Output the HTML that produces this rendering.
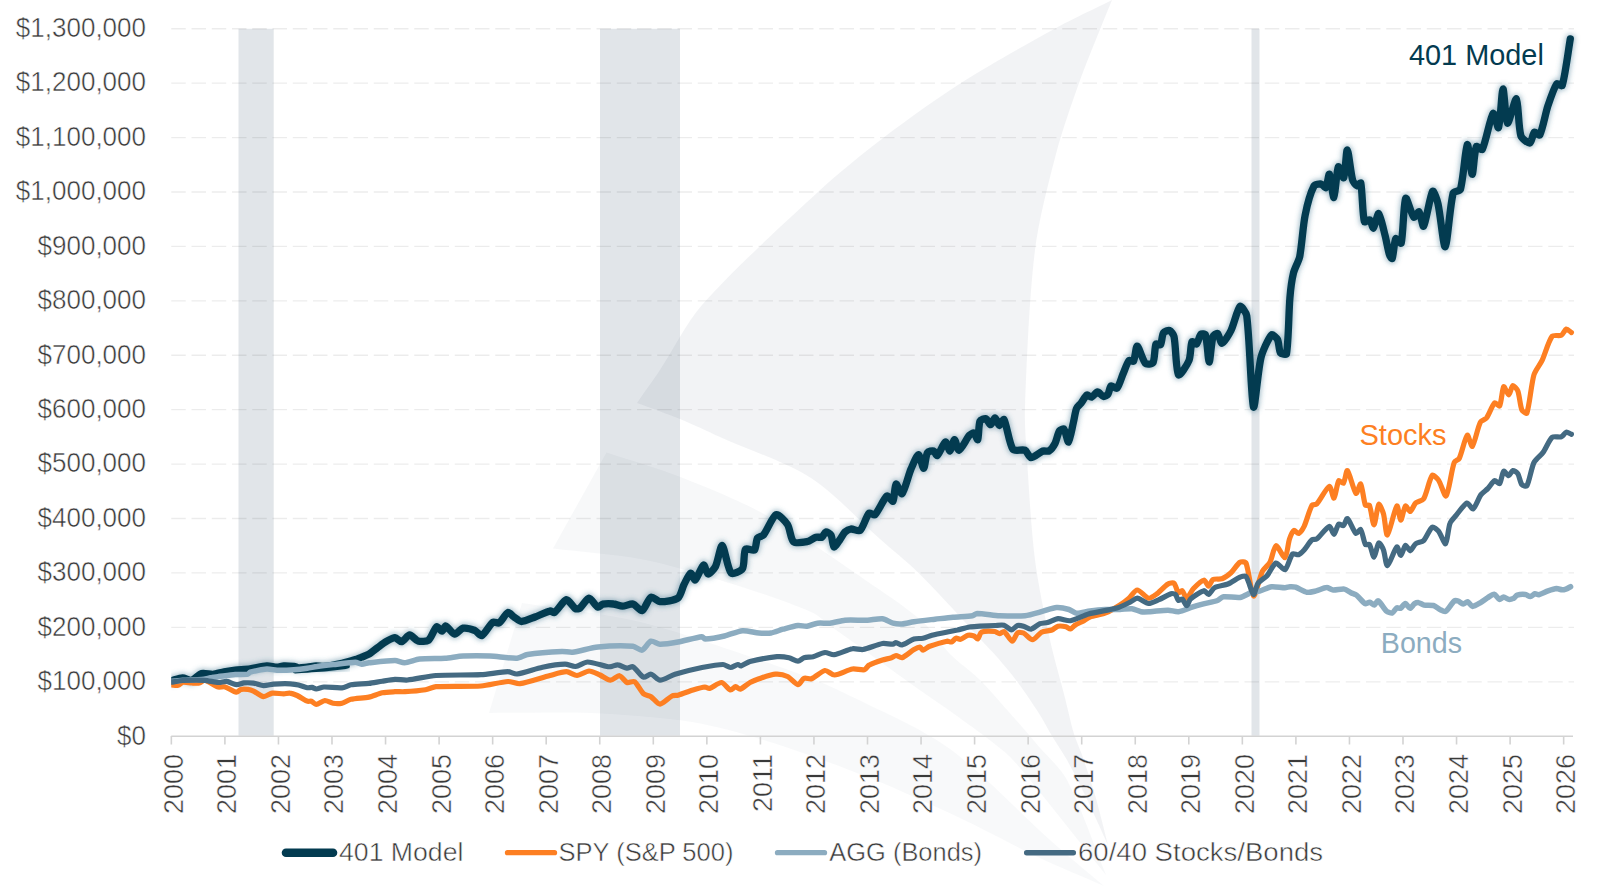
<!DOCTYPE html>
<html><head><meta charset="utf-8"><title>401 Model chart</title><style>
html,body{margin:0;padding:0;background:#fff;width:1600px;height:891px;overflow:hidden}
svg{display:block}
text{font-family:"Liberation Sans",sans-serif}
.thin{stroke:#fff;stroke-width:0.5px;stroke-linejoin:round}
</style></head><body>
<svg width="1600" height="891" viewBox="0 0 1600 891">
<defs>
<clipPath id="plot"><rect x="171.25" y="0" width="1428" height="891"/></clipPath>
<filter id="glow" x="-5%" y="-5%" width="110%" height="110%"><feGaussianBlur stdDeviation="2.6"/></filter>
</defs>
<rect x="0" y="0" width="1600" height="891" fill="#fff"/>

<g fill="#e1e5e9">
<rect x="238.5" y="28.75" width="35.2" height="707"/>
<rect x="600" y="28.75" width="80" height="707"/>
<rect x="1251.5" y="28.75" width="8" height="707"/>
</g>
<g fill="#4d6478">
<path d="M637.0,403.0 C643.9,393.1 653.3,380.1 660.0,370.0 C672.8,350.7 686.7,322.3 702.0,305.0 C734.1,268.9 782.3,224.9 818.0,192.0 C836.7,174.7 863.2,153.2 883.5,137.8 C906.8,120.1 938.6,97.3 963.3,81.6 C990.8,64.1 1028.9,42.9 1057.5,27.2 C1073.5,18.4 1095.7,8.2 1112.0,0.0 L1112.0,0.0 C1108.7,8.1 1104.2,18.9 1101.0,27.0 C1094.3,43.8 1085.0,66.0 1079.0,83.0 C1071.5,104.1 1061.7,132.4 1056.0,154.0 C1048.5,182.5 1038.6,220.8 1035.0,250.0 C1029.3,296.7 1026.8,359.9 1025.0,407.0 C1024.4,422.6 1026.0,443.4 1027.0,459.0 C1029.0,489.3 1031.2,529.9 1035.0,560.0 C1038.1,584.2 1044.8,616.2 1050.0,640.0 C1053.8,657.6 1060.6,680.6 1065.0,698.0 C1067.8,708.8 1070.8,723.3 1074.0,734.0 C1075.9,740.4 1079.8,748.6 1082.0,755.0 C1086.1,766.9 1091.5,782.9 1095.0,795.0 C1099.3,809.9 1104.1,830.0 1108.0,845.0 L1108.0,845.0 C1101.1,830.0 1092.2,809.9 1085.0,795.0 C1079.9,784.4 1072.8,770.3 1067.0,760.0 C1062.9,752.6 1056.4,743.3 1052.0,736.0 C1048.3,729.8 1043.9,721.1 1040.0,715.0 C1033.6,704.9 1024.6,691.6 1017.5,682.0 C1011.7,674.2 1003.3,664.3 997.0,657.0 C992.7,652.0 986.4,645.8 982.0,641.0 C973.2,631.4 961.9,618.5 953.0,609.0 C942.2,597.5 927.9,581.9 916.5,571.0 C906.0,560.9 890.9,548.6 880.0,539.0 C859.3,520.7 834.0,492.7 811.0,478.0 C786.0,462.1 747.3,449.3 720.0,437.0 C708.0,431.6 692.2,424.0 680.0,419.0 C667.3,413.8 649.9,407.8 637.0,403.0 Z" fill-opacity="0.075"/>
<path d="M606.5,452.5 C629.5,460.1 660.5,469.1 683.0,478.0 C709.1,488.3 744.1,502.6 768.5,516.5 C803.2,536.2 847.0,567.4 880.0,590.0 C893.6,599.3 911.9,611.9 924.0,623.0 C932.9,631.1 941.5,645.4 950.0,654.0 C958.0,662.2 970.8,671.0 979.0,679.0 C988.2,688.1 999.4,701.3 1008.0,711.0 C1017.0,721.1 1028.7,734.7 1037.5,745.0 C1046.4,755.4 1060.7,768.0 1067.0,780.0 C1081.2,807.0 1094.3,846.5 1106.0,875.0 L1106.0,875.0 C1083.2,846.5 1053.1,808.3 1030.0,780.0 C1023.7,772.3 1015.2,761.8 1008.0,755.0 C999.9,747.4 987.8,738.7 979.0,732.0 C970.4,725.5 958.8,717.2 950.0,711.0 C939.3,703.4 924.7,693.6 914.0,686.0 C899.8,675.9 881.1,662.1 867.0,652.0 C857.7,645.3 845.3,636.6 836.0,630.0 C828.5,624.6 819.4,615.7 811.0,612.0 C786.4,601.3 751.8,590.0 726.0,582.0 C700.7,574.1 666.6,564.0 640.6,559.0 C614.7,554.0 579.3,551.6 553.0,548.4 Z" fill-opacity="0.045"/>
<path d="M522.0,603.0 C557.4,608.7 605.2,613.7 640.0,622.0 C676.6,630.8 724.2,648.1 760.0,660.0 C778.2,666.1 802.3,674.7 820.0,682.0 C834.4,687.9 853.0,697.3 867.0,704.0 C881.2,710.8 900.2,719.5 914.0,727.0 C925.1,733.0 939.8,741.6 950.0,749.0 C961.6,757.5 975.9,770.3 986.5,780.0 C1005.9,797.6 1030.5,822.5 1050.0,840.0 C1065.8,854.3 1087.8,872.2 1104.0,886.0 L1104.0,886.0 C1084.8,877.6 1058.9,866.9 1040.0,858.0 C1015.7,846.5 984.3,829.4 960.0,818.0 C933.3,805.4 897.4,789.0 870.0,778.0 C840.4,766.2 800.4,751.6 770.0,742.0 C747.0,734.8 715.8,725.9 692.0,722.0 C662.1,717.2 621.4,714.3 591.0,713.0 C560.5,711.6 519.6,713.0 489.0,713.0 Z" fill-opacity="0.04"/>
</g>
<g stroke="#000" stroke-opacity="0.075" stroke-width="1.3" stroke-dasharray="14.5 5.75">
<line x1="171.25" y1="681.78" x2="1574" y2="681.78"/>
<line x1="171.25" y1="627.36" x2="1574" y2="627.36"/>
<line x1="171.25" y1="572.94" x2="1574" y2="572.94"/>
<line x1="171.25" y1="518.52" x2="1574" y2="518.52"/>
<line x1="171.25" y1="464.10" x2="1574" y2="464.10"/>
<line x1="171.25" y1="409.68" x2="1574" y2="409.68"/>
<line x1="171.25" y1="355.26" x2="1574" y2="355.26"/>
<line x1="171.25" y1="300.84" x2="1574" y2="300.84"/>
<line x1="171.25" y1="246.42" x2="1574" y2="246.42"/>
<line x1="171.25" y1="192.00" x2="1574" y2="192.00"/>
<line x1="171.25" y1="137.58" x2="1574" y2="137.58"/>
<line x1="171.25" y1="83.16" x2="1574" y2="83.16"/>
<line x1="171.25" y1="28.74" x2="1574" y2="28.74"/>
</g>
<g stroke="#d3d3d3" stroke-width="1.6" fill="none">
<line x1="171.25" y1="736.2" x2="1573" y2="736.2"/>
<line x1="171.35" y1="736" x2="171.35" y2="744.5"/>
<line x1="224.90" y1="736" x2="224.90" y2="744.5"/>
<line x1="278.45" y1="736" x2="278.45" y2="744.5"/>
<line x1="332.00" y1="736" x2="332.00" y2="744.5"/>
<line x1="385.55" y1="736" x2="385.55" y2="744.5"/>
<line x1="439.10" y1="736" x2="439.10" y2="744.5"/>
<line x1="492.65" y1="736" x2="492.65" y2="744.5"/>
<line x1="546.20" y1="736" x2="546.20" y2="744.5"/>
<line x1="599.75" y1="736" x2="599.75" y2="744.5"/>
<line x1="653.30" y1="736" x2="653.30" y2="744.5"/>
<line x1="706.85" y1="736" x2="706.85" y2="744.5"/>
<line x1="760.40" y1="736" x2="760.40" y2="744.5"/>
<line x1="813.95" y1="736" x2="813.95" y2="744.5"/>
<line x1="867.50" y1="736" x2="867.50" y2="744.5"/>
<line x1="921.05" y1="736" x2="921.05" y2="744.5"/>
<line x1="974.60" y1="736" x2="974.60" y2="744.5"/>
<line x1="1028.15" y1="736" x2="1028.15" y2="744.5"/>
<line x1="1081.70" y1="736" x2="1081.70" y2="744.5"/>
<line x1="1135.25" y1="736" x2="1135.25" y2="744.5"/>
<line x1="1188.80" y1="736" x2="1188.80" y2="744.5"/>
<line x1="1242.35" y1="736" x2="1242.35" y2="744.5"/>
<line x1="1295.90" y1="736" x2="1295.90" y2="744.5"/>
<line x1="1349.45" y1="736" x2="1349.45" y2="744.5"/>
<line x1="1403.00" y1="736" x2="1403.00" y2="744.5"/>
<line x1="1456.55" y1="736" x2="1456.55" y2="744.5"/>
<line x1="1510.10" y1="736" x2="1510.10" y2="744.5"/>
<line x1="1563.65" y1="736" x2="1563.65" y2="744.5"/>
</g>
<g font-size="27.2" fill="#3a3a3a" text-anchor="end" class="thin">
<text x="146" y="744.50" textLength="28.92" lengthAdjust="spacingAndGlyphs">$0</text>
<text x="146" y="690.08" textLength="108.45" lengthAdjust="spacingAndGlyphs">$100,000</text>
<text x="146" y="635.66" textLength="108.45" lengthAdjust="spacingAndGlyphs">$200,000</text>
<text x="146" y="581.24" textLength="108.45" lengthAdjust="spacingAndGlyphs">$300,000</text>
<text x="146" y="526.82" textLength="108.45" lengthAdjust="spacingAndGlyphs">$400,000</text>
<text x="146" y="472.40" textLength="108.45" lengthAdjust="spacingAndGlyphs">$500,000</text>
<text x="146" y="417.98" textLength="108.45" lengthAdjust="spacingAndGlyphs">$600,000</text>
<text x="146" y="363.56" textLength="108.45" lengthAdjust="spacingAndGlyphs">$700,000</text>
<text x="146" y="309.14" textLength="108.45" lengthAdjust="spacingAndGlyphs">$800,000</text>
<text x="146" y="254.72" textLength="108.45" lengthAdjust="spacingAndGlyphs">$900,000</text>
<text x="146" y="200.30" textLength="130.14" lengthAdjust="spacingAndGlyphs">$1,000,000</text>
<text x="146" y="145.88" textLength="130.14" lengthAdjust="spacingAndGlyphs">$1,100,000</text>
<text x="146" y="91.46" textLength="130.14" lengthAdjust="spacingAndGlyphs">$1,200,000</text>
<text x="146" y="37.04" textLength="130.14" lengthAdjust="spacingAndGlyphs">$1,300,000</text>
</g>
<g font-size="27" fill="#3a3a3a" text-anchor="end" class="thin">
<text transform="translate(182.75,754) rotate(-90)">2000</text>
<text transform="translate(236.30,754) rotate(-90)">2001</text>
<text transform="translate(289.85,754) rotate(-90)">2002</text>
<text transform="translate(343.40,754) rotate(-90)">2003</text>
<text transform="translate(396.95,754) rotate(-90)">2004</text>
<text transform="translate(450.50,754) rotate(-90)">2005</text>
<text transform="translate(504.05,754) rotate(-90)">2006</text>
<text transform="translate(557.60,754) rotate(-90)">2007</text>
<text transform="translate(611.15,754) rotate(-90)">2008</text>
<text transform="translate(664.70,754) rotate(-90)">2009</text>
<text transform="translate(718.25,754) rotate(-90)">2010</text>
<text transform="translate(771.80,754) rotate(-90)">2011</text>
<text transform="translate(825.35,754) rotate(-90)">2012</text>
<text transform="translate(878.90,754) rotate(-90)">2013</text>
<text transform="translate(932.45,754) rotate(-90)">2014</text>
<text transform="translate(986.00,754) rotate(-90)">2015</text>
<text transform="translate(1039.55,754) rotate(-90)">2016</text>
<text transform="translate(1093.10,754) rotate(-90)">2017</text>
<text transform="translate(1146.65,754) rotate(-90)">2018</text>
<text transform="translate(1200.20,754) rotate(-90)">2019</text>
<text transform="translate(1253.75,754) rotate(-90)">2020</text>
<text transform="translate(1307.30,754) rotate(-90)">2021</text>
<text transform="translate(1360.85,754) rotate(-90)">2022</text>
<text transform="translate(1414.40,754) rotate(-90)">2023</text>
<text transform="translate(1467.95,754) rotate(-90)">2024</text>
<text transform="translate(1521.50,754) rotate(-90)">2025</text>
<text transform="translate(1575.05,754) rotate(-90)">2026</text>
</g>
<g fill="none" stroke-linejoin="round" stroke-linecap="round" clip-path="url(#plot)">
<path d="M171.1,680.8 C174.0,680.1 179.7,678.1 182.6,678.0 C184.9,677.9 189.5,680.7 191.6,680.2 C194.3,679.6 198.9,674.3 201.7,673.5 C204.3,672.8 210.1,674.5 212.9,674.3 C215.7,674.1 221.3,672.3 224.1,671.8 C226.9,671.3 232.5,670.4 235.3,670.1 C239.0,669.7 246.4,669.3 250.1,668.8 C254.3,668.2 262.7,666.1 266.9,665.8 C269.4,665.6 274.5,667.1 277.0,667.1 C278.7,667.1 282.1,665.9 283.8,665.8 C286.3,665.7 291.4,666.1 293.9,666.4 C295.1,666.6 297.4,667.7 298.6,667.8 C300.7,667.9 305.1,667.3 307.3,667.1 C309.5,666.9 313.9,666.1 316.1,666.0 C318.1,665.9 322.0,666.6 324.0,666.4 C328.5,665.9 337.5,664.2 342.0,663.2 C345.4,662.5 352.1,660.6 355.4,659.6 C357.0,659.1 360.1,657.7 361.7,657.1 C363.5,656.4 367.2,655.2 368.9,654.2 C371.3,652.8 375.5,649.1 377.8,647.5 C380.0,645.9 384.4,642.6 386.8,641.2 C388.7,640.1 393.0,637.5 395.0,637.6 C396.7,637.7 400.0,642.0 401.5,641.7 C403.6,641.3 407.6,635.1 409.7,635.0 C411.7,634.9 415.7,640.4 418.0,641.0 C420.4,641.7 426.6,641.6 428.5,640.2 C431.3,638.1 434.4,628.3 436.7,626.7 C437.7,626.0 440.8,631.3 442.0,631.2 C443.1,631.1 444.6,625.7 445.7,626.0 C447.8,626.5 452.4,633.9 454.7,634.2 C456.7,634.5 460.7,628.6 463.0,628.2 C465.8,627.7 472.2,629.4 475.0,630.5 C476.9,631.3 480.2,636.4 481.7,635.7 C484.7,634.3 489.8,624.6 493.0,622.2 C494.1,621.4 497.9,623.7 499.0,623.0 C501.6,621.3 505.6,613.5 508.0,612.5 C509.3,612.0 512.4,616.0 514.0,617.0 C515.8,618.2 519.5,621.5 521.5,621.5 C524.8,621.5 531.7,618.2 535.0,617.0 C538.8,615.6 546.2,611.9 550.0,611.0 C551.1,610.7 553.6,613.1 554.5,612.5 C557.7,610.3 563.5,600.3 566.5,599.7 C568.7,599.3 573.0,607.2 575.5,608.7 C576.4,609.2 579.1,608.7 580.0,608.0 C582.5,606.0 586.7,598.3 589.0,598.2 C591.2,598.1 595.6,606.1 598.0,607.2 C599.0,607.6 601.2,604.5 602.5,604.2 C605.1,603.7 610.8,603.7 613.5,604.0 C615.8,604.2 620.2,606.2 622.5,606.2 C625.1,606.2 630.6,603.5 633.0,604.0 C635.5,604.6 640.2,611.4 642.0,610.7 C644.7,609.7 648.2,598.6 651.0,597.2 C652.7,596.3 657.6,601.6 660.0,601.7 C664.4,601.8 674.7,600.4 678.0,598.0 C680.7,596.1 682.3,587.8 684.0,584.5 C685.5,581.6 689.0,573.9 690.7,573.2 C691.8,572.8 694.2,580.7 695.2,580.0 C697.4,578.6 701.5,565.9 703.5,565.0 C704.7,564.4 706.5,573.8 708.0,574.0 C709.5,574.2 714.3,568.8 715.5,566.5 C717.9,561.7 720.5,544.8 722.2,545.5 C724.4,546.5 727.6,569.1 731.2,573.2 C732.7,574.9 741.1,571.0 742.5,568.7 C744.7,565.0 743.4,552.4 745.5,549.2 C746.4,547.7 753.2,551.2 754.5,550.0 C756.2,548.4 756.0,540.4 757.5,538.0 C758.3,536.7 762.5,536.3 763.5,535.0 C767.2,530.4 772.5,516.3 776.2,514.7 C778.5,513.7 785.5,521.5 787.5,524.5 C789.9,528.2 790.7,539.2 793.5,541.7 C795.6,543.5 803.8,542.3 807.0,541.7 C809.4,541.2 813.7,537.9 816.0,537.2 C817.4,536.8 820.8,537.8 822.0,537.2 C823.2,536.5 824.5,532.3 825.7,532.0 C826.8,531.7 830.3,533.8 831.0,535.0 C832.4,537.5 832.7,546.4 834.0,547.0 C835.0,547.5 838.6,541.4 840.0,539.5 C841.3,537.7 843.4,533.5 845.0,532.0 C846.2,530.9 849.4,529.2 851.0,529.0 C853.2,528.8 858.6,531.8 860.0,530.5 C863.1,527.8 866.2,516.2 869.0,513.2 C869.9,512.2 874.0,515.6 875.0,514.7 C878.5,511.3 883.7,498.5 887.0,496.0 C888.2,495.1 892.3,502.1 893.0,501.2 C894.5,499.1 894.6,485.1 896.0,484.0 C896.9,483.3 900.9,494.8 902.0,493.7 C904.6,491.1 908.4,475.0 911.0,469.0 C912.6,465.3 916.8,454.8 918.5,454.7 C920.0,454.6 922.6,468.5 923.7,468.2 C924.9,467.9 925.7,455.6 927.5,452.5 C928.2,451.3 932.3,450.6 933.5,451.0 C934.7,451.4 936.4,456.1 937.2,455.5 C939.4,453.9 943.5,442.7 945.5,442.0 C946.7,441.6 949.0,451.3 950.0,451.0 C951.2,450.7 953.3,439.8 954.5,439.7 C955.6,439.6 957.6,450.6 959.0,450.2 C961.3,449.5 966.6,438.6 969.5,435.2 C970.3,434.3 973.2,432.6 974.0,433.0 C975.2,433.7 977.3,440.6 977.7,439.7 C978.8,437.6 978.5,424.9 980.0,421.0 C980.5,419.7 984.8,418.3 986.0,418.7 C987.4,419.2 989.4,424.8 990.5,424.7 C991.7,424.6 993.9,417.9 995.0,418.0 C996.2,418.1 998.3,425.3 999.5,425.5 C1000.5,425.7 1003.3,418.3 1004.0,419.5 C1006.7,424.3 1009.2,444.0 1013.0,449.5 C1014.5,451.6 1022.5,449.1 1025.0,450.2 C1027.0,451.1 1029.1,457.6 1031.0,457.7 C1033.6,457.8 1039.9,452.2 1043.0,451.0 C1044.4,450.5 1047.8,451.7 1049.0,451.0 C1050.8,449.8 1053.9,445.6 1055.0,443.5 C1056.5,440.5 1057.8,433.3 1059.5,430.7 C1060.1,429.8 1063.4,428.5 1064.0,429.2 C1065.7,431.3 1067.6,442.7 1068.5,442.0 C1069.9,440.9 1072.3,427.0 1073.5,422.0 C1074.3,418.6 1075.3,411.6 1076.5,408.5 C1077.1,406.9 1079.9,404.6 1081.0,403.2 C1082.6,401.2 1085.2,396.0 1087.0,395.0 C1087.9,394.5 1090.5,397.5 1091.5,397.2 C1093.1,396.7 1096.0,392.1 1097.5,392.0 C1099.0,391.9 1101.9,396.2 1103.5,396.5 C1104.6,396.7 1107.3,395.2 1108.0,394.2 C1109.2,392.5 1109.7,386.9 1111.0,386.0 C1112.0,385.4 1116.1,389.1 1117.0,388.2 C1119.1,386.1 1121.5,377.5 1123.0,374.0 C1124.5,370.6 1127.0,362.9 1129.0,360.5 C1129.6,359.7 1133.0,362.0 1133.5,361.2 C1135.1,358.4 1135.9,345.9 1137.2,346.2 C1138.9,346.5 1142.7,360.5 1145.5,363.5 C1146.6,364.7 1152.3,364.1 1153.0,362.7 C1154.9,359.2 1154.5,347.6 1156.0,344.0 C1156.4,343.1 1160.0,345.5 1160.5,344.7 C1161.9,342.6 1162.0,335.0 1163.5,332.7 C1164.3,331.5 1168.3,330.1 1169.5,330.5 C1170.9,331.0 1173.6,334.7 1174.0,336.5 C1175.9,345.7 1175.9,370.6 1178.5,374.7 C1179.7,376.6 1187.4,364.5 1189.0,360.5 C1190.8,356.2 1190.5,345.0 1192.0,341.7 C1192.4,340.8 1195.8,344.6 1196.5,344.0 C1198.0,342.7 1199.4,335.8 1201.0,334.2 C1201.7,333.5 1205.2,334.0 1205.5,335.0 C1207.3,341.0 1208.2,361.8 1209.2,362.0 C1210.1,362.2 1211.3,342.4 1213.0,336.5 C1213.4,335.3 1216.7,332.9 1217.5,333.5 C1219.0,334.6 1220.6,343.5 1222.0,343.2 C1224.0,342.8 1229.3,334.0 1231.0,330.5 C1233.8,324.8 1237.3,309.1 1240.0,306.5 C1241.2,305.4 1246.3,312.8 1246.7,315.5 C1249.7,337.9 1251.2,400.2 1253.5,407.0 C1254.8,410.7 1258.0,369.5 1261.0,357.5 C1262.5,351.5 1268.3,338.5 1271.5,335.0 C1272.5,334.0 1276.7,337.9 1277.5,339.5 C1279.0,342.4 1278.9,350.5 1280.5,353.0 C1281.2,354.1 1286.3,355.0 1286.5,353.7 C1288.6,341.3 1288.7,311.9 1289.9,298.0 C1290.4,291.7 1292.0,279.0 1293.5,272.9 C1294.5,268.7 1298.8,260.9 1299.7,256.7 C1301.7,246.6 1303.0,225.6 1305.1,215.4 C1306.6,207.8 1310.8,192.1 1314.1,185.8 C1314.9,184.3 1319.7,183.7 1321.3,184.0 C1322.6,184.2 1325.2,188.3 1325.8,187.6 C1327.2,185.8 1328.7,173.2 1329.4,174.1 C1330.7,175.7 1332.9,198.3 1333.9,197.5 C1335.2,196.5 1336.5,170.5 1338.3,166.9 C1339.0,165.5 1343.0,179.0 1343.7,177.7 C1345.3,174.7 1346.2,149.6 1347.3,149.9 C1348.5,150.3 1350.7,173.1 1352.7,180.4 C1353.2,182.1 1356.0,185.4 1357.2,185.8 C1358.0,186.1 1360.6,182.2 1360.8,183.1 C1362.4,191.1 1362.4,213.7 1364.4,221.7 C1364.7,222.9 1368.9,219.3 1369.8,219.9 C1371.2,220.9 1372.6,228.6 1373.4,228.0 C1374.8,227.0 1377.5,212.9 1378.7,213.6 C1380.4,214.7 1383.6,229.8 1385.0,235.2 C1386.3,240.1 1388.0,250.1 1389.5,254.9 C1389.8,256.0 1391.9,259.2 1392.2,258.5 C1393.5,255.2 1394.1,241.5 1395.8,238.7 C1396.4,237.7 1400.9,244.6 1401.2,243.2 C1403.3,234.5 1403.5,202.8 1405.7,198.3 C1406.7,196.3 1411.4,214.7 1413.8,217.2 C1414.7,218.1 1418.3,211.0 1419.1,211.8 C1420.7,213.3 1422.6,227.7 1423.6,226.2 C1426.0,222.6 1430.0,195.3 1432.6,191.2 C1433.6,189.7 1437.3,200.4 1438.0,203.7 C1440.4,214.3 1443.5,248.0 1445.2,246.8 C1447.3,245.3 1449.9,205.5 1453.2,193.0 C1453.7,191.2 1459.9,191.2 1460.4,189.4 C1463.4,179.1 1465.5,146.9 1467.3,144.6 C1468.5,143.1 1471.0,174.0 1472.2,174.2 C1473.3,174.4 1474.3,151.5 1476.3,146.5 C1476.8,145.3 1481.7,150.5 1482.3,149.3 C1485.9,142.3 1490.2,117.2 1493.1,113.4 C1494.3,111.8 1497.8,129.4 1498.5,127.7 C1500.3,123.3 1501.8,89.7 1503.0,89.1 C1504.1,88.6 1505.6,121.8 1507.5,123.2 C1508.9,124.3 1515.0,97.7 1516.4,99.0 C1518.4,100.9 1518.3,127.4 1520.9,135.8 C1521.7,138.4 1528.2,143.4 1529.9,143.0 C1531.6,142.5 1532.8,133.5 1534.4,132.2 C1535.2,131.5 1539.2,136.0 1539.8,134.9 C1542.6,129.5 1545.5,113.3 1547.8,106.2 C1549.7,100.5 1553.9,87.9 1556.8,83.7 C1557.5,82.7 1561.8,86.7 1562.2,85.5 C1565.2,75.5 1568.3,50.5 1570.3,38.9" stroke="#3d7690" stroke-opacity="0.45" stroke-width="10" filter="url(#glow)"/>
<path d="M295.2,671.0 C298.2,670.8 304.3,670.4 307.3,670.2 C309.5,670.0 313.9,669.6 316.1,669.4 C319.2,669.2 325.4,668.8 328.5,668.5 C332.8,668.1 341.3,667.1 345.5,666.5 C346.0,666.4 346.9,666.1 347.3,666.0" stroke="#3d7690" stroke-opacity="0.45" stroke-width="7" filter="url(#glow)"/>
<path d="M171.1,680.8 C174.0,680.1 179.7,678.1 182.6,678.0 C184.9,677.9 189.5,680.7 191.6,680.2 C194.3,679.6 198.9,674.3 201.7,673.5 C204.3,672.8 210.1,674.5 212.9,674.3 C215.7,674.1 221.3,672.3 224.1,671.8 C226.9,671.3 232.5,670.4 235.3,670.1 C239.0,669.7 246.4,669.3 250.1,668.8 C254.3,668.2 262.7,666.1 266.9,665.8 C269.4,665.6 274.5,667.1 277.0,667.1 C278.7,667.1 282.1,665.9 283.8,665.8 C286.3,665.7 291.4,666.1 293.9,666.4 C295.1,666.6 297.4,667.7 298.6,667.8 C300.7,667.9 305.1,667.3 307.3,667.1 C309.5,666.9 313.9,666.1 316.1,666.0 C318.1,665.9 322.0,666.6 324.0,666.4 C328.5,665.9 337.5,664.2 342.0,663.2 C345.4,662.5 352.1,660.6 355.4,659.6 C357.0,659.1 360.1,657.7 361.7,657.1 C363.5,656.4 367.2,655.2 368.9,654.2 C371.3,652.8 375.5,649.1 377.8,647.5 C380.0,645.9 384.4,642.6 386.8,641.2 C388.7,640.1 393.0,637.5 395.0,637.6 C396.7,637.7 400.0,642.0 401.5,641.7 C403.6,641.3 407.6,635.1 409.7,635.0 C411.7,634.9 415.7,640.4 418.0,641.0 C420.4,641.7 426.6,641.6 428.5,640.2 C431.3,638.1 434.4,628.3 436.7,626.7 C437.7,626.0 440.8,631.3 442.0,631.2 C443.1,631.1 444.6,625.7 445.7,626.0 C447.8,626.5 452.4,633.9 454.7,634.2 C456.7,634.5 460.7,628.6 463.0,628.2 C465.8,627.7 472.2,629.4 475.0,630.5 C476.9,631.3 480.2,636.4 481.7,635.7 C484.7,634.3 489.8,624.6 493.0,622.2 C494.1,621.4 497.9,623.7 499.0,623.0 C501.6,621.3 505.6,613.5 508.0,612.5 C509.3,612.0 512.4,616.0 514.0,617.0 C515.8,618.2 519.5,621.5 521.5,621.5 C524.8,621.5 531.7,618.2 535.0,617.0 C538.8,615.6 546.2,611.9 550.0,611.0 C551.1,610.7 553.6,613.1 554.5,612.5 C557.7,610.3 563.5,600.3 566.5,599.7 C568.7,599.3 573.0,607.2 575.5,608.7 C576.4,609.2 579.1,608.7 580.0,608.0 C582.5,606.0 586.7,598.3 589.0,598.2 C591.2,598.1 595.6,606.1 598.0,607.2 C599.0,607.6 601.2,604.5 602.5,604.2 C605.1,603.7 610.8,603.7 613.5,604.0 C615.8,604.2 620.2,606.2 622.5,606.2 C625.1,606.2 630.6,603.5 633.0,604.0 C635.5,604.6 640.2,611.4 642.0,610.7 C644.7,609.7 648.2,598.6 651.0,597.2 C652.7,596.3 657.6,601.6 660.0,601.7 C664.4,601.8 674.7,600.4 678.0,598.0 C680.7,596.1 682.3,587.8 684.0,584.5 C685.5,581.6 689.0,573.9 690.7,573.2 C691.8,572.8 694.2,580.7 695.2,580.0 C697.4,578.6 701.5,565.9 703.5,565.0 C704.7,564.4 706.5,573.8 708.0,574.0 C709.5,574.2 714.3,568.8 715.5,566.5 C717.9,561.7 720.5,544.8 722.2,545.5 C724.4,546.5 727.6,569.1 731.2,573.2 C732.7,574.9 741.1,571.0 742.5,568.7 C744.7,565.0 743.4,552.4 745.5,549.2 C746.4,547.7 753.2,551.2 754.5,550.0 C756.2,548.4 756.0,540.4 757.5,538.0 C758.3,536.7 762.5,536.3 763.5,535.0 C767.2,530.4 772.5,516.3 776.2,514.7 C778.5,513.7 785.5,521.5 787.5,524.5 C789.9,528.2 790.7,539.2 793.5,541.7 C795.6,543.5 803.8,542.3 807.0,541.7 C809.4,541.2 813.7,537.9 816.0,537.2 C817.4,536.8 820.8,537.8 822.0,537.2 C823.2,536.5 824.5,532.3 825.7,532.0 C826.8,531.7 830.3,533.8 831.0,535.0 C832.4,537.5 832.7,546.4 834.0,547.0 C835.0,547.5 838.6,541.4 840.0,539.5 C841.3,537.7 843.4,533.5 845.0,532.0 C846.2,530.9 849.4,529.2 851.0,529.0 C853.2,528.8 858.6,531.8 860.0,530.5 C863.1,527.8 866.2,516.2 869.0,513.2 C869.9,512.2 874.0,515.6 875.0,514.7 C878.5,511.3 883.7,498.5 887.0,496.0 C888.2,495.1 892.3,502.1 893.0,501.2 C894.5,499.1 894.6,485.1 896.0,484.0 C896.9,483.3 900.9,494.8 902.0,493.7 C904.6,491.1 908.4,475.0 911.0,469.0 C912.6,465.3 916.8,454.8 918.5,454.7 C920.0,454.6 922.6,468.5 923.7,468.2 C924.9,467.9 925.7,455.6 927.5,452.5 C928.2,451.3 932.3,450.6 933.5,451.0 C934.7,451.4 936.4,456.1 937.2,455.5 C939.4,453.9 943.5,442.7 945.5,442.0 C946.7,441.6 949.0,451.3 950.0,451.0 C951.2,450.7 953.3,439.8 954.5,439.7 C955.6,439.6 957.6,450.6 959.0,450.2 C961.3,449.5 966.6,438.6 969.5,435.2 C970.3,434.3 973.2,432.6 974.0,433.0 C975.2,433.7 977.3,440.6 977.7,439.7 C978.8,437.6 978.5,424.9 980.0,421.0 C980.5,419.7 984.8,418.3 986.0,418.7 C987.4,419.2 989.4,424.8 990.5,424.7 C991.7,424.6 993.9,417.9 995.0,418.0 C996.2,418.1 998.3,425.3 999.5,425.5 C1000.5,425.7 1003.3,418.3 1004.0,419.5 C1006.7,424.3 1009.2,444.0 1013.0,449.5 C1014.5,451.6 1022.5,449.1 1025.0,450.2 C1027.0,451.1 1029.1,457.6 1031.0,457.7 C1033.6,457.8 1039.9,452.2 1043.0,451.0 C1044.4,450.5 1047.8,451.7 1049.0,451.0 C1050.8,449.8 1053.9,445.6 1055.0,443.5 C1056.5,440.5 1057.8,433.3 1059.5,430.7 C1060.1,429.8 1063.4,428.5 1064.0,429.2 C1065.7,431.3 1067.6,442.7 1068.5,442.0 C1069.9,440.9 1072.3,427.0 1073.5,422.0 C1074.3,418.6 1075.3,411.6 1076.5,408.5 C1077.1,406.9 1079.9,404.6 1081.0,403.2 C1082.6,401.2 1085.2,396.0 1087.0,395.0 C1087.9,394.5 1090.5,397.5 1091.5,397.2 C1093.1,396.7 1096.0,392.1 1097.5,392.0 C1099.0,391.9 1101.9,396.2 1103.5,396.5 C1104.6,396.7 1107.3,395.2 1108.0,394.2 C1109.2,392.5 1109.7,386.9 1111.0,386.0 C1112.0,385.4 1116.1,389.1 1117.0,388.2 C1119.1,386.1 1121.5,377.5 1123.0,374.0 C1124.5,370.6 1127.0,362.9 1129.0,360.5 C1129.6,359.7 1133.0,362.0 1133.5,361.2 C1135.1,358.4 1135.9,345.9 1137.2,346.2 C1138.9,346.5 1142.7,360.5 1145.5,363.5 C1146.6,364.7 1152.3,364.1 1153.0,362.7 C1154.9,359.2 1154.5,347.6 1156.0,344.0 C1156.4,343.1 1160.0,345.5 1160.5,344.7 C1161.9,342.6 1162.0,335.0 1163.5,332.7 C1164.3,331.5 1168.3,330.1 1169.5,330.5 C1170.9,331.0 1173.6,334.7 1174.0,336.5 C1175.9,345.7 1175.9,370.6 1178.5,374.7 C1179.7,376.6 1187.4,364.5 1189.0,360.5 C1190.8,356.2 1190.5,345.0 1192.0,341.7 C1192.4,340.8 1195.8,344.6 1196.5,344.0 C1198.0,342.7 1199.4,335.8 1201.0,334.2 C1201.7,333.5 1205.2,334.0 1205.5,335.0 C1207.3,341.0 1208.2,361.8 1209.2,362.0 C1210.1,362.2 1211.3,342.4 1213.0,336.5 C1213.4,335.3 1216.7,332.9 1217.5,333.5 C1219.0,334.6 1220.6,343.5 1222.0,343.2 C1224.0,342.8 1229.3,334.0 1231.0,330.5 C1233.8,324.8 1237.3,309.1 1240.0,306.5 C1241.2,305.4 1246.3,312.8 1246.7,315.5 C1249.7,337.9 1251.2,400.2 1253.5,407.0 C1254.8,410.7 1258.0,369.5 1261.0,357.5 C1262.5,351.5 1268.3,338.5 1271.5,335.0 C1272.5,334.0 1276.7,337.9 1277.5,339.5 C1279.0,342.4 1278.9,350.5 1280.5,353.0 C1281.2,354.1 1286.3,355.0 1286.5,353.7 C1288.6,341.3 1288.7,311.9 1289.9,298.0 C1290.4,291.7 1292.0,279.0 1293.5,272.9 C1294.5,268.7 1298.8,260.9 1299.7,256.7 C1301.7,246.6 1303.0,225.6 1305.1,215.4 C1306.6,207.8 1310.8,192.1 1314.1,185.8 C1314.9,184.3 1319.7,183.7 1321.3,184.0 C1322.6,184.2 1325.2,188.3 1325.8,187.6 C1327.2,185.8 1328.7,173.2 1329.4,174.1 C1330.7,175.7 1332.9,198.3 1333.9,197.5 C1335.2,196.5 1336.5,170.5 1338.3,166.9 C1339.0,165.5 1343.0,179.0 1343.7,177.7 C1345.3,174.7 1346.2,149.6 1347.3,149.9 C1348.5,150.3 1350.7,173.1 1352.7,180.4 C1353.2,182.1 1356.0,185.4 1357.2,185.8 C1358.0,186.1 1360.6,182.2 1360.8,183.1 C1362.4,191.1 1362.4,213.7 1364.4,221.7 C1364.7,222.9 1368.9,219.3 1369.8,219.9 C1371.2,220.9 1372.6,228.6 1373.4,228.0 C1374.8,227.0 1377.5,212.9 1378.7,213.6 C1380.4,214.7 1383.6,229.8 1385.0,235.2 C1386.3,240.1 1388.0,250.1 1389.5,254.9 C1389.8,256.0 1391.9,259.2 1392.2,258.5 C1393.5,255.2 1394.1,241.5 1395.8,238.7 C1396.4,237.7 1400.9,244.6 1401.2,243.2 C1403.3,234.5 1403.5,202.8 1405.7,198.3 C1406.7,196.3 1411.4,214.7 1413.8,217.2 C1414.7,218.1 1418.3,211.0 1419.1,211.8 C1420.7,213.3 1422.6,227.7 1423.6,226.2 C1426.0,222.6 1430.0,195.3 1432.6,191.2 C1433.6,189.7 1437.3,200.4 1438.0,203.7 C1440.4,214.3 1443.5,248.0 1445.2,246.8 C1447.3,245.3 1449.9,205.5 1453.2,193.0 C1453.7,191.2 1459.9,191.2 1460.4,189.4 C1463.4,179.1 1465.5,146.9 1467.3,144.6 C1468.5,143.1 1471.0,174.0 1472.2,174.2 C1473.3,174.4 1474.3,151.5 1476.3,146.5 C1476.8,145.3 1481.7,150.5 1482.3,149.3 C1485.9,142.3 1490.2,117.2 1493.1,113.4 C1494.3,111.8 1497.8,129.4 1498.5,127.7 C1500.3,123.3 1501.8,89.7 1503.0,89.1 C1504.1,88.6 1505.6,121.8 1507.5,123.2 C1508.9,124.3 1515.0,97.7 1516.4,99.0 C1518.4,100.9 1518.3,127.4 1520.9,135.8 C1521.7,138.4 1528.2,143.4 1529.9,143.0 C1531.6,142.5 1532.8,133.5 1534.4,132.2 C1535.2,131.5 1539.2,136.0 1539.8,134.9 C1542.6,129.5 1545.5,113.3 1547.8,106.2 C1549.7,100.5 1553.9,87.9 1556.8,83.7 C1557.5,82.7 1561.8,86.7 1562.2,85.5 C1565.2,75.5 1568.3,50.5 1570.3,38.9" stroke="#033b50" stroke-width="7.3"/>
<path d="M295.2,671.0 C298.2,670.8 304.3,670.4 307.3,670.2 C309.5,670.0 313.9,669.6 316.1,669.4 C319.2,669.2 325.4,668.8 328.5,668.5 C332.8,668.1 341.3,667.1 345.5,666.5 C346.0,666.4 346.9,666.1 347.3,666.0" stroke="#033b50" stroke-width="5"/>
<path d="M171.1,685.0 C172.8,685.0 176.5,685.6 178.1,685.2 C179.5,684.9 181.7,682.3 183.1,682.1 C185.2,681.8 189.8,682.9 192.1,683.0 C193.9,683.1 197.7,683.4 199.4,683.0 C200.9,682.7 203.6,679.9 205.0,680.2 C208.1,680.9 214.1,685.8 217.4,686.9 C219.2,687.5 223.4,686.4 225.2,686.9 C228.1,687.7 233.7,691.8 236.4,692.2 C237.6,692.4 239.7,689.7 240.9,689.4 C242.6,689.0 246.3,689.2 248.0,689.4 C249.4,689.6 252.2,690.5 253.5,691.1 C256.1,692.3 261.0,696.3 263.6,696.6 C265.7,696.8 270.0,693.4 272.3,693.1 C275.1,692.7 280.9,693.9 283.8,693.9 C285.3,693.9 288.3,692.9 289.8,693.1 C291.7,693.3 295.4,694.7 297.2,695.5 C299.8,696.7 304.7,700.1 307.3,701.2 C308.2,701.6 310.5,700.9 311.4,701.2 C312.7,701.7 314.8,704.6 316.1,704.5 C318.2,704.4 322.7,700.7 324.9,700.5 C326.9,700.4 330.9,703.0 333.0,703.3 C335.2,703.6 339.8,703.7 342.0,703.2 C344.3,702.7 348.6,699.8 350.9,699.3 C355.3,698.3 364.5,698.0 368.9,697.1 C372.3,696.4 378.9,693.5 382.3,692.8 C385.4,692.2 391.8,691.9 395.0,691.7 C397.5,691.6 402.5,691.9 405.0,691.7 C410.1,691.4 420.4,690.5 425.5,689.7 C428.2,689.3 433.3,686.9 436.0,686.7 C447.2,686.0 469.8,686.8 481.0,686.0 C487.8,685.5 501.3,681.9 508.0,681.5 C511.0,681.3 517.0,684.1 520.0,683.7 C527.5,682.6 542.5,677.4 550.0,675.5 C554.1,674.4 562.4,671.7 566.5,671.7 C569.2,671.7 574.4,675.6 577.0,675.5 C580.0,675.4 586.0,671.1 589.0,671.0 C591.7,670.9 597.3,673.9 600.0,675.0 C602.7,676.2 607.9,680.1 610.5,680.2 C612.8,680.3 617.4,675.4 619.5,675.7 C621.6,676.0 624.9,681.6 627.0,682.5 C628.6,683.1 633.1,680.8 634.5,681.7 C637.2,683.6 640.8,691.3 643.5,693.7 C644.9,695.0 649.3,695.6 651.0,696.7 C653.4,698.3 657.7,704.3 660.0,704.2 C662.9,704.1 668.8,697.6 672.0,696.0 C673.3,695.3 676.6,695.6 678.0,695.2 C681.8,694.1 689.2,691.2 693.0,690.0 C696.0,689.1 702.0,687.3 705.0,687.0 C706.1,686.9 708.4,688.8 709.5,688.5 C712.5,687.7 718.7,682.3 721.5,682.5 C723.9,682.7 728.2,689.3 730.5,690.0 C731.7,690.4 734.4,686.8 735.7,686.7 C736.8,686.6 739.1,689.5 740.2,689.2 C742.7,688.5 747.4,683.9 750.0,682.5 C752.1,681.3 756.7,679.5 759.0,678.7 C763.1,677.4 771.3,674.5 775.5,674.2 C778.5,674.0 784.8,675.2 787.5,676.5 C790.4,677.9 795.5,684.4 798.0,684.7 C799.6,684.9 802.2,679.1 804.0,678.3 C805.6,677.6 809.8,679.3 811.5,678.7 C815.1,677.4 821.5,671.1 825.0,670.5 C827.3,670.1 832.0,675.1 834.5,675.0 C838.9,674.8 847.9,669.8 852.5,669.0 C855.4,668.5 861.8,670.3 864.5,669.7 C865.9,669.4 867.6,665.9 869.0,665.2 C872.1,663.5 879.1,661.1 882.5,660.0 C884.7,659.3 889.3,658.4 891.5,657.7 C892.7,657.3 894.8,655.5 896.0,655.5 C897.5,655.5 900.6,658.2 902.0,657.7 C905.1,656.7 910.9,651.3 914.0,649.5 C915.4,648.7 918.6,647.1 920.0,647.2 C920.9,647.3 922.2,650.3 923.0,650.2 C924.4,650.1 927.4,647.1 929.0,646.5 C933.4,644.9 942.5,642.1 947.0,641.2 C948.1,641.0 950.5,642.3 951.5,642.0 C952.8,641.6 954.7,638.6 956.0,638.2 C957.0,637.9 959.4,639.6 960.5,639.3 C962.4,638.8 966.0,635.7 968.0,635.2 C969.4,634.9 972.6,635.5 974.0,636.0 C975.1,636.4 977.0,639.4 977.7,639.0 C978.9,638.4 979.9,632.9 981.5,632.2 C984.2,631.0 991.7,631.2 995.0,631.5 C996.2,631.6 998.4,633.7 999.5,633.7 C1000.6,633.7 1003.1,631.0 1004.0,631.5 C1006.3,632.8 1010.3,641.0 1012.2,641.2 C1013.7,641.4 1015.8,634.3 1017.5,633.0 C1018.6,632.2 1022.2,632.4 1023.5,633.0 C1025.9,634.1 1030.3,639.8 1032.5,639.7 C1034.8,639.6 1039.0,633.5 1041.5,632.2 C1043.8,631.0 1049.5,630.9 1052.0,630.0 C1053.6,629.4 1056.4,626.6 1058.0,626.2 C1059.9,625.8 1064.1,626.3 1066.0,626.7 C1067.2,627.0 1069.5,629.2 1070.5,629.0 C1071.7,628.8 1073.8,626.0 1075.0,625.2 C1077.1,623.9 1081.8,621.9 1084.0,620.7 C1085.5,619.9 1088.4,617.6 1090.0,617.0 C1093.6,615.7 1101.4,614.6 1105.0,613.2 C1108.9,611.6 1116.4,607.3 1120.0,605.0 C1122.4,603.5 1126.9,600.0 1129.0,598.2 C1131.2,596.3 1135.0,590.0 1137.2,590.0 C1139.9,590.0 1145.6,597.5 1148.5,598.2 C1150.3,598.6 1154.3,595.7 1156.0,594.5 C1159.2,592.2 1164.7,586.0 1168.0,584.0 C1169.2,583.2 1173.1,582.4 1174.0,583.2 C1175.7,584.6 1177.0,591.7 1178.5,593.0 C1179.1,593.5 1181.5,590.3 1182.2,590.7 C1183.6,591.6 1185.5,598.4 1186.7,598.2 C1188.3,597.9 1191.5,590.6 1193.5,588.5 C1195.8,586.1 1201.6,580.6 1204.0,580.2 C1205.3,580.0 1207.4,586.3 1208.5,586.2 C1209.7,586.1 1211.4,580.4 1213.0,579.5 C1214.8,578.5 1220.0,579.5 1222.0,578.7 C1224.5,577.8 1229.0,574.5 1231.0,572.7 C1233.5,570.4 1237.4,563.9 1240.0,562.2 C1241.1,561.5 1245.5,561.7 1246.0,563.0 C1248.9,570.2 1251.2,594.8 1253.5,596.0 C1255.3,596.9 1259.6,577.1 1262.5,571.2 C1263.8,568.6 1268.6,564.8 1270.0,562.2 C1272.0,558.4 1274.0,546.3 1276.0,545.7 C1277.7,545.2 1283.5,558.4 1285.0,557.7 C1286.9,556.8 1288.0,543.5 1289.5,539.0 C1290.3,536.7 1292.6,531.3 1294.0,530.4 C1294.8,529.9 1297.6,533.9 1298.6,533.5 C1300.2,532.9 1303.1,528.4 1304.1,526.4 C1306.5,521.3 1309.4,509.8 1312.0,505.2 C1312.6,504.2 1315.9,505.0 1316.7,504.1 C1320.2,500.3 1326.6,487.3 1329.3,486.4 C1330.9,485.8 1333.0,498.7 1334.0,498.1 C1335.4,497.3 1336.9,483.8 1338.7,480.9 C1339.2,480.1 1342.8,483.9 1343.4,483.2 C1345.0,481.4 1346.3,469.7 1347.4,470.6 C1349.4,472.3 1353.7,491.1 1356.0,493.4 C1357.0,494.4 1359.9,483.0 1360.7,484.0 C1362.3,486.0 1363.6,500.7 1365.4,505.2 C1365.7,506.0 1369.0,504.4 1369.4,505.2 C1371.2,509.3 1372.8,525.0 1374.0,524.9 C1375.2,524.8 1377.2,506.2 1378.8,504.4 C1379.6,503.5 1382.8,511.4 1383.5,513.9 C1384.9,519.0 1386.0,535.8 1387.4,535.0 C1389.4,533.8 1394.6,508.5 1396.9,506.0 C1398.0,504.8 1399.7,520.1 1400.8,520.1 C1401.9,520.1 1403.9,507.4 1405.5,506.0 C1406.3,505.3 1409.1,511.8 1410.2,511.5 C1411.7,511.0 1413.9,504.6 1415.7,502.9 C1417.3,501.4 1422.5,500.7 1423.6,498.9 C1426.6,493.8 1429.4,479.0 1432.2,475.4 C1433.1,474.3 1437.4,478.5 1438.5,480.1 C1440.9,483.6 1444.8,497.4 1446.1,495.9 C1448.7,493.0 1451.4,470.4 1454.2,462.5 C1454.7,461.0 1458.5,459.9 1459.2,458.5 C1461.8,453.1 1465.1,437.2 1467.3,435.2 C1468.4,434.2 1471.2,447.4 1472.3,446.3 C1474.5,444.1 1477.6,427.6 1480.4,422.1 C1481.2,420.5 1485.4,419.4 1486.5,418.0 C1489.0,414.6 1492.2,405.2 1494.6,402.9 C1495.4,402.1 1499.1,406.8 1499.6,405.9 C1501.4,402.8 1502.2,388.6 1503.7,386.7 C1504.4,385.8 1507.6,394.9 1508.7,394.8 C1509.9,394.7 1511.5,386.3 1512.8,385.7 C1513.7,385.3 1517.2,389.2 1517.8,390.8 C1519.5,395.3 1520.1,405.7 1521.9,410.0 C1522.4,411.3 1526.5,414.1 1526.9,413.0 C1529.5,405.3 1531.3,383.9 1534.0,374.6 C1535.1,370.7 1540.4,364.1 1542.1,360.4 C1544.9,354.5 1548.6,340.9 1552.2,336.2 C1553.4,334.6 1559.4,336.2 1561.3,335.2 C1562.9,334.4 1564.9,329.5 1566.3,329.1 C1567.4,328.8 1570.1,331.6 1571.4,332.5" stroke="#fd7f22" stroke-width="5.2"/>
<path d="M171.1,681.3 C174.0,681.0 179.7,680.4 182.6,680.2 C187.4,679.9 197.0,679.9 201.7,679.5 C204.3,679.3 209.4,677.9 212.0,677.5 C213.6,677.2 216.9,676.8 218.5,676.6 C222.7,676.1 231.1,675.0 235.3,674.6 C238.5,674.3 245.0,674.6 248.0,674.1 C248.7,674.0 249.4,672.4 250.1,672.2 C254.2,671.1 262.7,669.3 266.9,669.0 C269.4,668.8 274.5,670.1 277.0,670.2 C281.2,670.3 289.7,670.0 293.9,669.7 C297.3,669.5 304.0,668.7 307.3,668.2 C309.7,667.9 314.6,666.8 317.0,666.5 C321.0,665.9 329.0,665.0 333.0,664.6 C338.6,664.0 349.9,662.4 355.4,662.3 C357.0,662.3 360.1,664.2 361.7,664.3 C363.5,664.4 367.1,663.0 368.9,662.8 C375.4,662.1 388.5,660.5 395.0,660.5 C397.4,660.5 402.1,662.8 404.5,662.7 C408.3,662.5 415.7,659.4 419.5,659.0 C425.8,658.3 438.6,658.6 445.0,658.2 C449.5,657.9 458.5,656.2 463.0,656.0 C469.7,655.7 483.3,655.7 490.0,656.0 C496.8,656.3 510.4,658.5 517.0,658.2 C519.7,658.1 524.8,654.9 527.5,654.5 C536.0,653.2 553.4,651.9 562.0,651.5 C564.6,651.4 569.9,652.5 572.5,652.2 C578.9,651.4 591.6,647.6 598.0,647.0 C606.7,646.1 624.4,645.6 633.0,646.2 C635.4,646.4 640.0,650.7 642.0,650.2 C644.5,649.5 648.4,642.1 651.0,641.2 C652.9,640.6 657.7,644.1 660.0,644.2 C664.4,644.3 673.5,642.8 678.0,642.0 C684.0,640.9 696.1,637.4 702.0,636.7 C702.9,636.6 704.1,639.0 705.0,639.0 C709.7,638.9 719.7,637.1 724.5,636.0 C729.1,635.0 737.9,631.1 742.5,630.7 C746.6,630.3 754.9,632.7 759.0,633.0 C762.0,633.2 768.1,633.5 771.0,633.0 C774.1,632.5 780.0,630.0 783.0,629.2 C786.7,628.2 794.2,626.0 798.0,625.5 C800.2,625.2 804.8,626.5 807.0,626.2 C809.7,625.9 814.8,623.5 817.5,623.2 C820.6,622.8 826.9,623.5 830.0,623.2 C833.8,622.8 841.2,620.5 845.0,620.2 C850.6,619.8 861.9,620.4 867.5,620.2 C871.3,620.0 878.9,618.3 882.5,618.7 C885.2,619.0 890.3,622.5 893.0,623.2 C895.2,623.8 899.8,624.2 902.0,624.0 C905.0,623.8 911.0,622.1 914.0,621.7 C919.2,620.9 929.7,619.8 935.0,619.2 C939.5,618.7 948.5,617.6 953.0,617.2 C957.9,616.7 967.7,616.4 972.5,615.7 C973.7,615.5 975.8,613.5 977.0,613.5 C982.5,613.5 993.9,615.4 999.5,615.7 C1005.9,616.0 1018.7,616.4 1025.0,615.7 C1029.6,615.2 1038.5,612.4 1043.0,611.2 C1046.4,610.3 1053.1,607.7 1056.5,607.5 C1059.6,607.3 1066.0,608.6 1069.0,609.5 C1071.0,610.1 1074.5,613.1 1076.5,613.2 C1079.8,613.4 1086.6,611.4 1090.0,611.0 C1093.7,610.5 1101.2,609.7 1105.0,609.5 C1108.7,609.3 1116.3,609.6 1120.0,609.5 C1123.0,609.4 1129.1,608.4 1132.0,608.7 C1134.3,608.9 1138.7,611.3 1141.0,611.7 C1143.2,612.1 1147.8,611.8 1150.0,611.7 C1154.5,611.4 1163.5,610.2 1168.0,610.2 C1170.6,610.2 1175.9,612.0 1178.5,611.7 C1181.9,611.3 1188.6,608.3 1192.0,607.2 C1194.6,606.4 1199.9,604.9 1202.5,604.2 C1206.2,603.2 1213.9,601.8 1217.5,600.5 C1219.2,599.9 1221.8,596.9 1223.5,596.7 C1227.4,596.2 1236.0,598.1 1240.0,597.5 C1243.2,597.0 1248.9,593.2 1252.0,592.2 C1253.8,591.6 1257.7,591.7 1259.5,591.2 C1262.6,590.3 1268.4,587.1 1271.5,586.7 C1274.8,586.3 1281.6,587.7 1285.0,587.7 C1286.3,587.7 1288.7,586.8 1290.0,586.7 C1291.4,586.6 1294.3,586.8 1295.6,587.2 C1298.5,588.2 1304.0,591.8 1306.9,592.3 C1309.1,592.7 1313.9,591.4 1316.2,590.9 C1318.8,590.3 1324.0,587.7 1326.6,587.6 C1328.2,587.5 1331.4,589.9 1333.1,590.0 C1335.9,590.2 1341.7,588.7 1344.4,589.1 C1346.2,589.4 1349.2,592.0 1350.9,592.8 C1352.3,593.5 1355.3,594.2 1356.5,595.1 C1358.8,596.9 1362.7,602.3 1365.0,603.6 C1366.0,604.1 1368.6,602.0 1369.7,602.2 C1370.9,602.4 1373.3,605.2 1374.3,605.0 C1375.4,604.8 1377.2,600.3 1378.1,600.8 C1380.2,601.9 1384.1,609.0 1386.5,611.1 C1387.6,612.0 1391.0,613.4 1392.2,613.0 C1393.6,612.6 1395.4,608.6 1396.8,607.8 C1397.5,607.4 1399.8,608.7 1400.6,608.3 C1401.9,607.6 1404.1,603.6 1405.3,603.6 C1406.5,603.6 1408.8,608.3 1410.0,608.3 C1411.2,608.3 1413.3,604.5 1414.6,603.6 C1415.4,603.1 1417.5,602.5 1418.4,602.6 C1419.8,602.8 1422.5,604.7 1424.0,605.0 C1426.3,605.4 1431.2,604.9 1433.4,605.5 C1435.3,606.0 1438.5,608.8 1440.3,609.7 C1441.5,610.3 1444.5,612.1 1445.5,611.5 C1448.0,609.9 1451.9,602.9 1454.4,600.8 C1455.1,600.2 1457.3,600.7 1458.1,601.0 C1459.5,601.5 1462.0,603.9 1463.3,604.0 C1464.3,604.1 1466.6,601.5 1467.5,601.7 C1468.9,602.1 1471.2,606.3 1472.6,606.4 C1474.4,606.5 1478.7,603.7 1480.6,602.6 C1482.3,601.6 1485.5,599.1 1487.2,598.0 C1488.9,597.0 1492.6,594.0 1494.2,594.2 C1495.7,594.4 1498.0,599.0 1499.4,599.4 C1500.3,599.7 1502.5,597.0 1503.6,597.0 C1504.9,597.0 1507.4,599.2 1508.7,599.4 C1509.8,599.6 1512.4,598.9 1513.4,598.4 C1514.5,597.9 1516.1,595.5 1517.2,595.1 C1519.1,594.5 1523.6,594.3 1525.6,594.5 C1526.8,594.6 1529.2,596.7 1530.3,596.6 C1531.5,596.5 1533.8,594.0 1535.0,593.7 C1535.9,593.5 1537.8,594.9 1538.7,594.7 C1541.1,594.2 1545.7,591.7 1548.1,590.9 C1550.2,590.2 1554.4,588.8 1556.5,588.6 C1557.9,588.5 1560.7,589.7 1562.1,589.8 C1563.0,589.9 1565.0,589.4 1565.9,589.1 C1567.1,588.7 1569.4,587.3 1570.6,586.7" stroke="#8cacc0" stroke-width="5.5"/>
<path d="M171.1,682.2 C174.0,681.8 179.7,680.7 182.6,680.5 C188.1,680.2 199.1,680.0 204.5,680.3 C208.0,680.5 215.0,682.3 218.5,682.5 C220.6,682.6 224.9,681.1 226.9,681.4 C229.3,681.7 234.0,684.5 236.4,684.7 C238.3,684.9 242.1,683.1 244.0,682.9 C246.3,682.7 251.2,682.8 253.5,683.1 C256.1,683.5 261.1,685.6 263.6,685.7 C266.1,685.8 271.2,684.3 273.7,684.1 C277.9,683.8 286.3,683.6 290.5,683.8 C292.5,683.9 296.6,684.5 298.6,685.0 C300.8,685.5 305.1,687.3 307.3,687.7 C308.5,687.9 310.9,687.2 312.1,687.4 C313.1,687.6 315.1,689.0 316.1,689.0 C318.0,688.9 322.0,687.1 324.0,687.0 C328.5,686.8 337.6,688.3 342.0,687.9 C344.3,687.7 348.6,685.2 350.9,684.8 C355.3,684.1 364.4,683.9 368.9,683.4 C372.3,683.0 378.9,681.7 382.3,681.2 C385.5,680.7 391.8,679.6 395.0,679.4 C398.1,679.3 404.4,680.3 407.5,680.0 C414.6,679.3 428.8,676.0 436.0,675.5 C447.2,674.7 469.8,675.3 481.0,674.7 C487.8,674.3 501.3,671.8 508.0,671.7 C510.3,671.7 514.8,674.3 517.0,674.0 C523.4,673.2 536.0,668.5 542.5,667.2 C548.0,666.1 559.4,664.3 565.0,664.2 C567.7,664.1 572.9,666.8 575.5,666.5 C578.6,666.2 584.4,662.0 587.5,662.0 C592.3,662.0 602.1,665.5 607.0,666.5 C607.9,666.7 609.6,666.8 610.5,666.7 C612.4,666.4 616.2,664.6 618.0,664.8 C620.3,665.0 624.7,667.9 627.0,668.2 C628.5,668.4 631.8,666.0 633.0,666.7 C635.9,668.3 640.6,676.0 643.5,677.2 C645.1,677.9 649.2,673.9 651.0,674.2 C653.4,674.6 657.6,680.2 660.0,680.2 C663.6,680.2 671.1,675.4 675.0,674.2 C681.6,672.2 695.2,668.9 702.0,667.5 C707.2,666.5 717.8,664.5 723.0,664.5 C725.0,664.5 728.6,667.5 730.5,667.5 C732.4,667.5 736.1,664.8 738.0,664.5 C738.8,664.4 740.2,666.2 741.0,666.0 C743.2,665.4 747.6,662.1 750.0,661.5 C756.6,659.8 770.2,657.4 777.0,656.7 C780.0,656.4 786.1,657.1 789.0,657.7 C791.3,658.2 795.8,661.2 798.0,661.2 C799.6,661.2 802.4,658.2 804.0,657.7 C806.1,657.1 810.8,657.2 813.0,656.7 C816.1,655.9 822.0,652.8 825.0,652.5 C827.2,652.3 831.8,655.0 834.0,654.7 C838.7,654.1 847.8,649.5 852.5,648.7 C855.0,648.2 860.4,649.9 863.0,649.5 C867.9,648.6 877.6,644.4 882.5,643.5 C885.1,643.0 890.4,644.4 893.0,644.2 C893.8,644.2 895.2,642.6 896.0,642.7 C897.5,642.8 900.5,645.3 902.0,645.0 C905.0,644.4 910.9,640.0 914.0,639.0 C916.1,638.3 920.8,638.7 923.0,638.2 C925.3,637.7 929.7,635.8 932.0,635.2 C936.5,634.1 945.5,632.4 950.0,631.5 C951.9,631.1 955.6,630.4 957.5,630.0 C960.5,629.3 966.5,627.5 969.5,627.0 C972.1,626.6 977.4,626.4 980.0,626.2 C983.7,626.0 991.2,625.7 995.0,625.5 C997.2,625.4 1001.9,624.6 1004.0,625.2 C1006.1,625.8 1009.7,630.0 1011.5,630.0 C1013.0,630.0 1015.8,626.0 1017.5,625.5 C1018.8,625.1 1022.1,625.8 1023.5,626.2 C1025.4,626.7 1029.2,629.5 1031.0,629.2 C1033.3,628.8 1037.6,624.7 1040.0,623.7 C1041.7,623.0 1045.7,623.0 1047.5,622.5 C1050.2,621.8 1055.3,618.9 1058.0,618.7 C1061.1,618.5 1067.5,621.2 1070.5,620.7 C1075.1,620.0 1083.9,615.3 1088.5,614.0 C1095.5,612.1 1110.0,610.0 1117.0,608.0 C1120.5,607.0 1127.2,603.6 1130.5,602.0 C1132.2,601.2 1135.5,598.1 1137.2,598.2 C1140.0,598.4 1145.6,603.3 1148.5,603.5 C1151.1,603.7 1156.4,600.8 1159.0,599.7 C1162.1,598.4 1167.9,594.7 1171.0,593.7 C1172.0,593.4 1174.7,593.8 1175.5,594.5 C1176.6,595.5 1177.4,599.8 1178.5,600.5 C1179.1,600.9 1181.5,598.6 1182.2,599.0 C1183.6,599.9 1185.6,605.7 1186.7,605.7 C1187.7,605.7 1189.1,600.2 1190.5,599.0 C1193.4,596.5 1200.7,591.5 1204.0,590.7 C1205.2,590.4 1207.5,594.8 1208.5,594.5 C1210.1,594.0 1212.6,588.7 1214.5,587.7 C1217.5,586.1 1224.8,585.3 1228.0,584.0 C1231.2,582.7 1236.9,578.5 1240.0,577.2 C1241.4,576.6 1245.2,575.5 1246.0,576.5 C1248.6,579.8 1251.7,593.5 1253.5,594.5 C1254.7,595.1 1256.3,585.6 1258.0,583.2 C1259.7,580.9 1265.1,577.9 1267.0,575.7 C1269.6,572.8 1273.4,563.9 1276.0,563.0 C1277.9,562.4 1283.4,570.6 1285.0,569.7 C1287.5,568.3 1290.0,556.8 1292.5,554.0 C1293.4,553.0 1297.3,555.2 1298.6,554.7 C1300.2,554.2 1302.9,551.3 1304.1,550.0 C1306.2,547.6 1309.7,541.8 1312.0,539.8 C1312.8,539.1 1315.8,539.7 1316.7,539.0 C1320.1,536.4 1326.4,527.2 1329.3,526.4 C1330.8,526.0 1332.9,534.6 1334.0,534.3 C1335.3,534.0 1337.1,525.6 1338.7,524.1 C1339.4,523.4 1342.6,526.1 1343.4,525.6 C1344.7,524.7 1346.4,518.0 1347.4,518.6 C1349.5,519.9 1353.5,531.5 1356.0,533.5 C1356.9,534.2 1360.0,528.8 1360.7,529.6 C1362.4,531.6 1363.7,541.5 1365.4,544.5 C1365.8,545.3 1368.9,543.8 1369.4,544.5 C1371.1,546.9 1372.9,557.3 1374.0,557.1 C1375.2,556.9 1377.3,544.0 1378.8,542.9 C1379.7,542.3 1382.8,548.0 1383.5,550.0 C1384.9,553.7 1385.9,566.0 1387.4,565.7 C1389.3,565.3 1394.6,548.7 1396.9,546.9 C1397.9,546.1 1399.8,555.7 1400.8,555.5 C1402.0,555.3 1404.1,546.0 1405.5,545.3 C1406.4,544.8 1409.1,551.0 1410.2,550.8 C1411.6,550.6 1414.0,545.0 1415.7,543.7 C1417.3,542.5 1422.2,542.0 1423.6,540.6 C1426.3,537.9 1429.7,528.8 1432.2,527.2 C1433.4,526.4 1437.4,529.7 1438.5,531.1 C1440.7,533.8 1444.4,544.5 1445.6,543.7 C1447.3,542.5 1448.2,528.1 1450.0,523.3 C1450.8,521.0 1454.4,517.4 1456.0,515.5 C1458.7,512.3 1464.2,504.1 1467.0,503.0 C1468.4,502.5 1471.8,509.7 1473.0,509.0 C1475.3,507.6 1478.6,497.9 1481.0,494.6 C1482.4,492.7 1486.4,490.1 1488.0,488.4 C1489.8,486.6 1492.8,481.4 1494.6,480.7 C1495.7,480.3 1498.9,484.4 1499.6,483.7 C1501.2,482.1 1502.2,472.5 1503.7,471.2 C1504.5,470.5 1507.5,475.8 1508.7,475.7 C1509.8,475.6 1511.6,470.9 1512.8,470.6 C1513.9,470.4 1517.0,472.4 1517.8,473.6 C1519.3,476.0 1520.3,482.6 1521.9,484.7 C1522.6,485.6 1526.4,486.8 1526.9,485.8 C1529.4,481.2 1531.4,467.9 1534.0,462.5 C1535.5,459.5 1541.1,455.1 1543.1,452.4 C1545.7,448.8 1549.2,439.8 1552.2,437.2 C1553.7,435.9 1559.3,437.5 1561.3,436.8 C1562.8,436.3 1564.9,432.6 1566.3,432.2 C1567.4,431.9 1570.1,433.7 1571.4,434.2" stroke="#446a82" stroke-width="5.2"/>
</g>
<text x="1409" y="65.4" font-size="30" fill="#033b50" textLength="134.8" lengthAdjust="spacingAndGlyphs">401 Model</text>
<text x="1359.5" y="444.5" font-size="29.5" fill="#fd7f22" textLength="87" lengthAdjust="spacingAndGlyphs">Stocks</text>
<text x="1380.8" y="652.6" font-size="29" fill="#8cacc0" textLength="81.3" lengthAdjust="spacingAndGlyphs">Bonds</text>
<g stroke-linecap="round">
<line x1="286" y1="852.7" x2="333" y2="852.7" stroke="#033b50" stroke-width="8.6"/>
<line x1="507.5" y1="852.7" x2="554.5" y2="852.7" stroke="#fd7f22" stroke-width="5.3"/>
<line x1="777.5" y1="852.7" x2="824.5" y2="852.7" stroke="#8cacc0" stroke-width="5.3"/>
<line x1="1026.7" y1="852.7" x2="1073.3" y2="852.7" stroke="#446a82" stroke-width="5.5"/>
</g>
<g font-size="26" fill="#3a3a3a" class="thin">
<text x="339" y="860.8" textLength="124.4" lengthAdjust="spacingAndGlyphs">401 Model</text>
<text x="558.5" y="860.8" textLength="174.9" lengthAdjust="spacingAndGlyphs">SPY (S&amp;P 500)</text>
<text x="829.3" y="860.8" textLength="152.7" lengthAdjust="spacingAndGlyphs">AGG (Bonds)</text>
<text x="1078" y="860.8" textLength="245.1" lengthAdjust="spacingAndGlyphs">60/40 Stocks/Bonds</text>
</g>
</svg>
</body></html>
